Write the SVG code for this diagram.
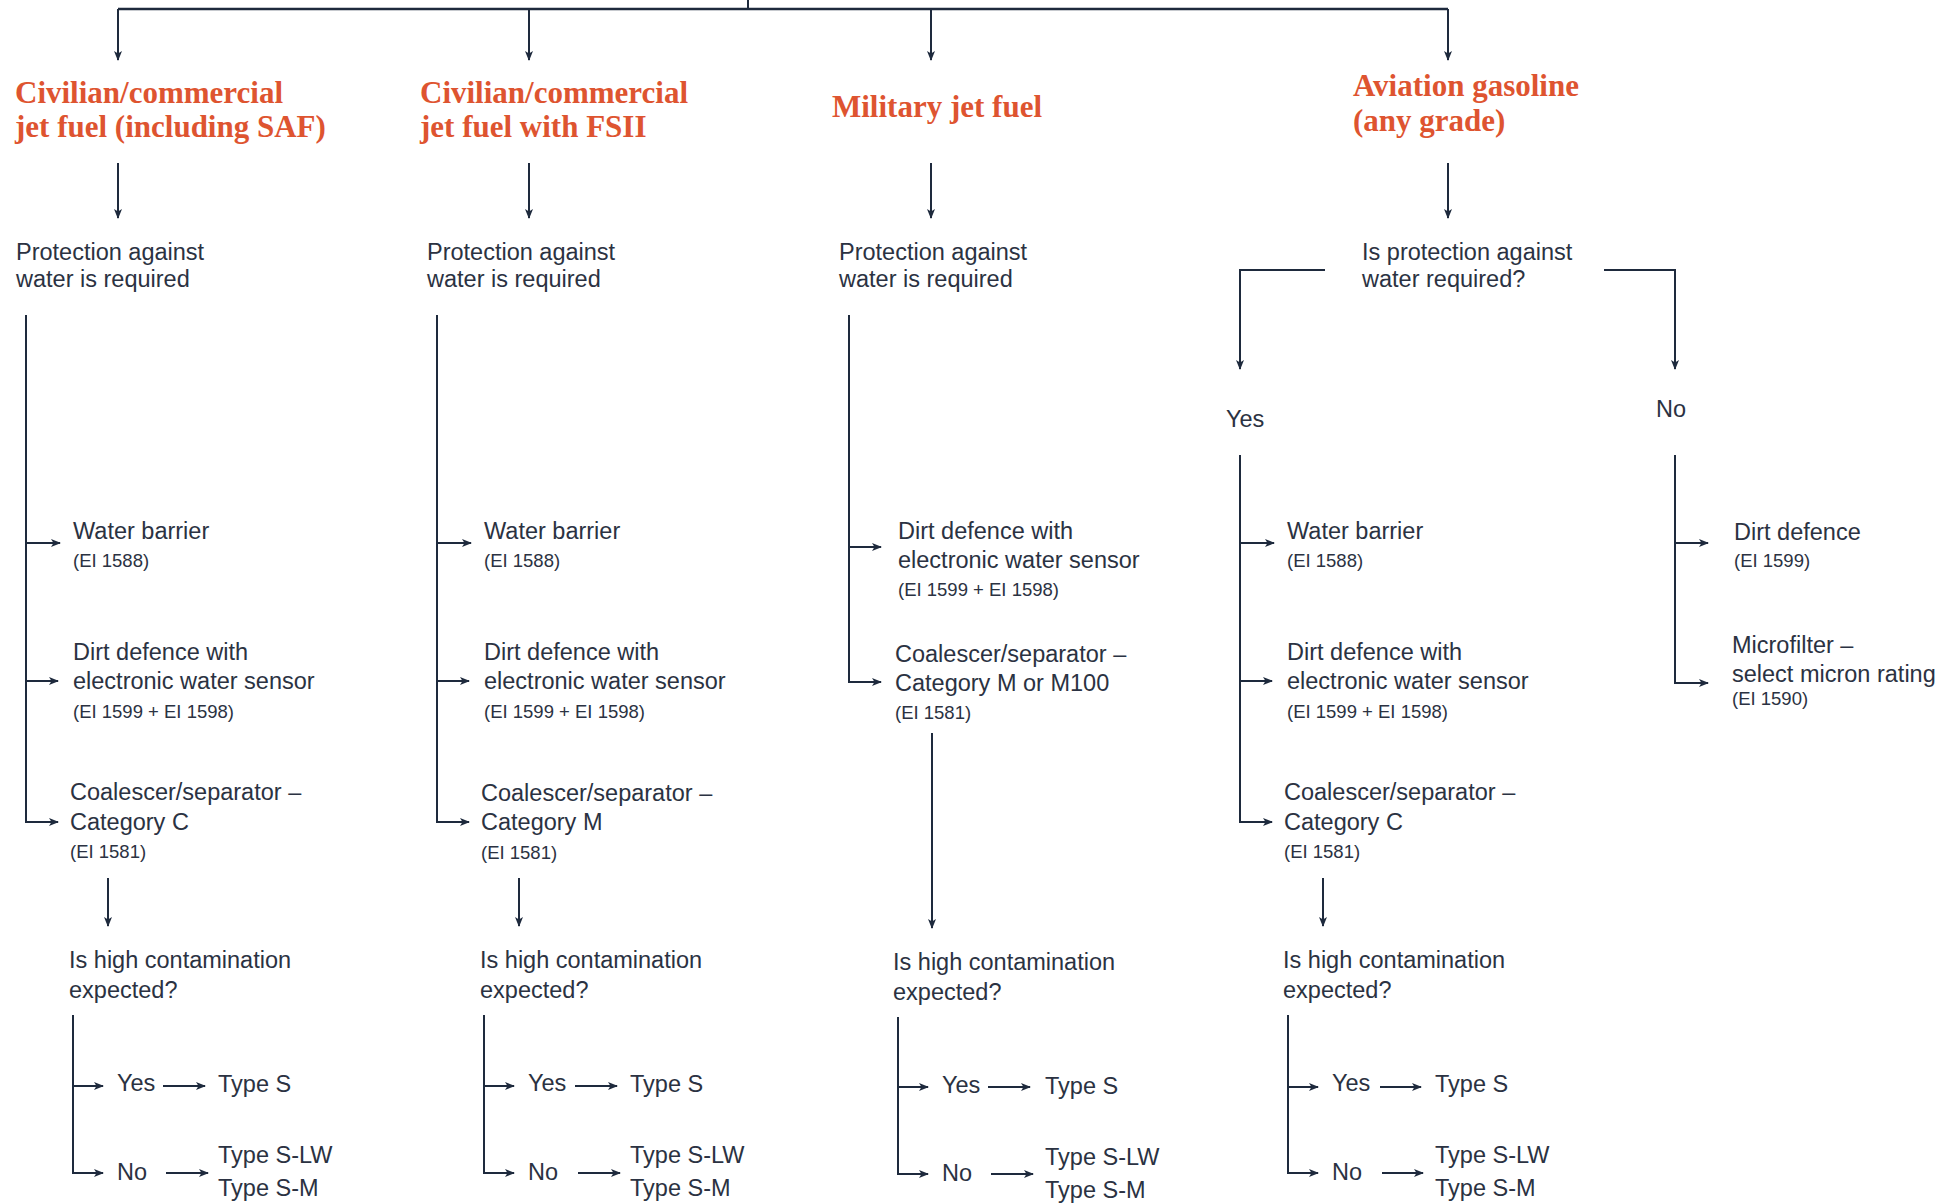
<svg xmlns="http://www.w3.org/2000/svg" width="1941" height="1203" viewBox="0 0 1941 1203">
<style>
.t{font-family:"Liberation Serif","Times New Roman",serif;font-weight:bold;font-size:31px;fill:#de5430}
.b{font-family:"Liberation Sans",Arial,sans-serif;font-size:23.5px;fill:#2b3242}
.s{font-family:"Liberation Sans",Arial,sans-serif;font-size:18.5px;fill:#2b3242}
.c{fill:none;stroke:#1e2a3d;stroke-width:2}
.a{fill:none;stroke:#1e2a3d;stroke-width:2;marker-end:url(#ah)}
</style>
<defs>
<marker id="ah" viewBox="0 0 10 10" refX="9" refY="5" markerWidth="10" markerHeight="10" markerUnits="userSpaceOnUse" orient="auto">
<path d="M0,1 L10,5 L0,9 L2.5,5 z" fill="#1e2a3d"/>
</marker>
</defs>
<rect width="1941" height="1203" fill="#ffffff"/>
<g id="connectors">
<path class="c" d="M748,0 V9" />
<path class="c" style="stroke-width:2.5" d="M118,9 H1448" />
<path class="a" d="M118,9 V60"/>
<path class="a" d="M529,9 V60"/>
<path class="a" d="M931,9 V60"/>
<path class="a" d="M1448,9 V60"/>
<path class="a" d="M118,163 V218"/>
<path class="a" d="M529,163 V218"/>
<path class="a" d="M931,163 V218"/>
<path class="a" d="M1448,163 V218"/>
<!-- col1 -->
<path class="a" d="M26,315 V822 H58"/>
<path class="a" d="M26,543 H60"/>
<path class="a" d="M26,681 H58"/>
<path class="a" d="M108,878 V926"/>
<path class="a" d="M73,1015 V1173 H103"/>
<path class="a" d="M73,1086 H103"/>
<path class="a" d="M163,1086 H205"/>
<path class="a" d="M166,1173 H208"/>
<!-- col2 -->
<path class="a" d="M437,315 V822 H469"/>
<path class="a" d="M437,543 H471"/>
<path class="a" d="M437,681 H469"/>
<path class="a" d="M519,878 V926"/>
<path class="a" d="M484,1015 V1173 H514"/>
<path class="a" d="M484,1086 H514"/>
<path class="a" d="M575,1086 H617"/>
<path class="a" d="M578,1173 H620"/>
<!-- col3 -->
<path class="a" d="M849,315 V682 H881"/>
<path class="a" d="M849,547 H881"/>
<path class="a" d="M932,733 V928"/>
<path class="a" d="M898,1017 V1174 H928"/>
<path class="a" d="M898,1087 H928"/>
<path class="a" d="M988,1087 H1030"/>
<path class="a" d="M991,1174 H1033"/>
<!-- col4 -->
<path class="a" d="M1325,270 H1240 V369"/>
<path class="a" d="M1604,270 H1675 V369"/>
<path class="a" d="M1240,455 V822 H1272"/>
<path class="a" d="M1240,543 H1274"/>
<path class="a" d="M1240,681 H1272"/>
<path class="a" d="M1675,455 V683 H1708"/>
<path class="a" d="M1675,543 H1708"/>
<path class="a" d="M1323,878 V926"/>
<path class="a" d="M1288,1015 V1173 H1318"/>
<path class="a" d="M1288,1087 H1318"/>
<path class="a" d="M1380,1087 H1421"/>
<path class="a" d="M1382,1173 H1423"/>
</g>
<g id="title-civil"><text class="t" x="15" y="103">Civilian/commercial</text><text class="t" x="15" y="137">jet fuel (including SAF)</text></g>
<g id="title-fsii"><text class="t" x="420" y="103">Civilian/commercial</text><text class="t" x="420" y="137">jet fuel with FSII</text></g>
<g id="title-military"><text class="t" x="832" y="117">Military jet fuel</text></g>
<g id="title-avgas"><text class="t" x="1353" y="96">Aviation gasoline</text><text class="t" x="1353" y="131">(any grade)</text></g>

<g id="c1-q"><text class="b" x="16" y="260">Protection against</text><text class="b" x="16" y="287">water is required</text></g>
<g id="c1-wb"><text class="b" x="73" y="539">Water barrier</text><text class="s" x="73" y="567">(EI 1588)</text></g>
<g id="c1-dd"><text class="b" x="73" y="660">Dirt defence with</text><text class="b" x="73" y="689">electronic water sensor</text><text class="s" x="73" y="718">(EI 1599 + EI 1598)</text></g>
<g id="c1-cs"><text class="b" x="70" y="800">Coalescer/separator –</text><text class="b" x="70" y="830">Category C</text><text class="s" x="70" y="858">(EI 1581)</text></g>
<g id="c1-hc"><text class="b" x="69" y="968">Is high contamination</text><text class="b" x="69" y="998">expected?</text></g>
<g id="c1-yes"><text class="b" x="117" y="1091">Yes</text></g>
<g id="c1-ts"><text class="b" x="218" y="1092">Type S</text></g>
<g id="c1-no"><text class="b" x="117" y="1180">No</text></g>
<g id="c1-tslw"><text class="b" x="218" y="1163">Type S-LW</text><text class="b" x="218" y="1196">Type S-M</text></g>

<g id="c2-q"><text class="b" x="427" y="260">Protection against</text><text class="b" x="427" y="287">water is required</text></g>
<g id="c2-wb"><text class="b" x="484" y="539">Water barrier</text><text class="s" x="484" y="567">(EI 1588)</text></g>
<g id="c2-dd"><text class="b" x="484" y="660">Dirt defence with</text><text class="b" x="484" y="689">electronic water sensor</text><text class="s" x="484" y="718">(EI 1599 + EI 1598)</text></g>
<g id="c2-cs"><text class="b" x="481" y="801">Coalescer/separator –</text><text class="b" x="481" y="830">Category M</text><text class="s" x="481" y="859">(EI 1581)</text></g>
<g id="c2-hc"><text class="b" x="480" y="968">Is high contamination</text><text class="b" x="480" y="998">expected?</text></g>
<g id="c2-yes"><text class="b" x="528" y="1091">Yes</text></g>
<g id="c2-ts"><text class="b" x="630" y="1092">Type S</text></g>
<g id="c2-no"><text class="b" x="528" y="1180">No</text></g>
<g id="c2-tslw"><text class="b" x="630" y="1163">Type S-LW</text><text class="b" x="630" y="1196">Type S-M</text></g>

<g id="c3-q"><text class="b" x="839" y="260">Protection against</text><text class="b" x="839" y="287">water is required</text></g>
<g id="c3-dd"><text class="b" x="898" y="539">Dirt defence with</text><text class="b" x="898" y="568">electronic water sensor</text><text class="s" x="898" y="596">(EI 1599 + EI 1598)</text></g>
<g id="c3-cs"><text class="b" x="895" y="662">Coalescer/separator –</text><text class="b" x="895" y="691">Category M or M100</text><text class="s" x="895" y="719">(EI 1581)</text></g>
<g id="c3-hc"><text class="b" x="893" y="970">Is high contamination</text><text class="b" x="893" y="1000">expected?</text></g>
<g id="c3-yes"><text class="b" x="942" y="1093">Yes</text></g>
<g id="c3-ts"><text class="b" x="1045" y="1094">Type S</text></g>
<g id="c3-no"><text class="b" x="942" y="1181">No</text></g>
<g id="c3-tslw"><text class="b" x="1045" y="1165">Type S-LW</text><text class="b" x="1045" y="1198">Type S-M</text></g>

<g id="c4-q"><text class="b" x="1362" y="260">Is protection against</text><text class="b" x="1362" y="287">water required?</text></g>
<g id="c4-yes1"><text class="b" x="1226" y="427">Yes</text></g>
<g id="c4-no1"><text class="b" x="1656" y="417">No</text></g>
<g id="c4-wb"><text class="b" x="1287" y="539">Water barrier</text><text class="s" x="1287" y="567">(EI 1588)</text></g>
<g id="c4-dd"><text class="b" x="1287" y="660">Dirt defence with</text><text class="b" x="1287" y="689">electronic water sensor</text><text class="s" x="1287" y="718">(EI 1599 + EI 1598)</text></g>
<g id="c4-cs"><text class="b" x="1284" y="800">Coalescer/separator –</text><text class="b" x="1284" y="830">Category C</text><text class="s" x="1284" y="858">(EI 1581)</text></g>
<g id="c4-dirt"><text class="b" x="1734" y="540">Dirt defence</text><text class="s" x="1734" y="567">(EI 1599)</text></g>
<g id="c4-micro"><text class="b" x="1732" y="653">Microfilter –</text><text class="b" x="1732" y="682">select micron rating</text><text class="s" x="1732" y="705">(EI 1590)</text></g>
<g id="c4-hc"><text class="b" x="1283" y="968">Is high contamination</text><text class="b" x="1283" y="998">expected?</text></g>
<g id="c4-yes"><text class="b" x="1332" y="1091">Yes</text></g>
<g id="c4-ts"><text class="b" x="1435" y="1092">Type S</text></g>
<g id="c4-no"><text class="b" x="1332" y="1180">No</text></g>
<g id="c4-tslw"><text class="b" x="1435" y="1163">Type S-LW</text><text class="b" x="1435" y="1196">Type S-M</text></g>
</svg>
